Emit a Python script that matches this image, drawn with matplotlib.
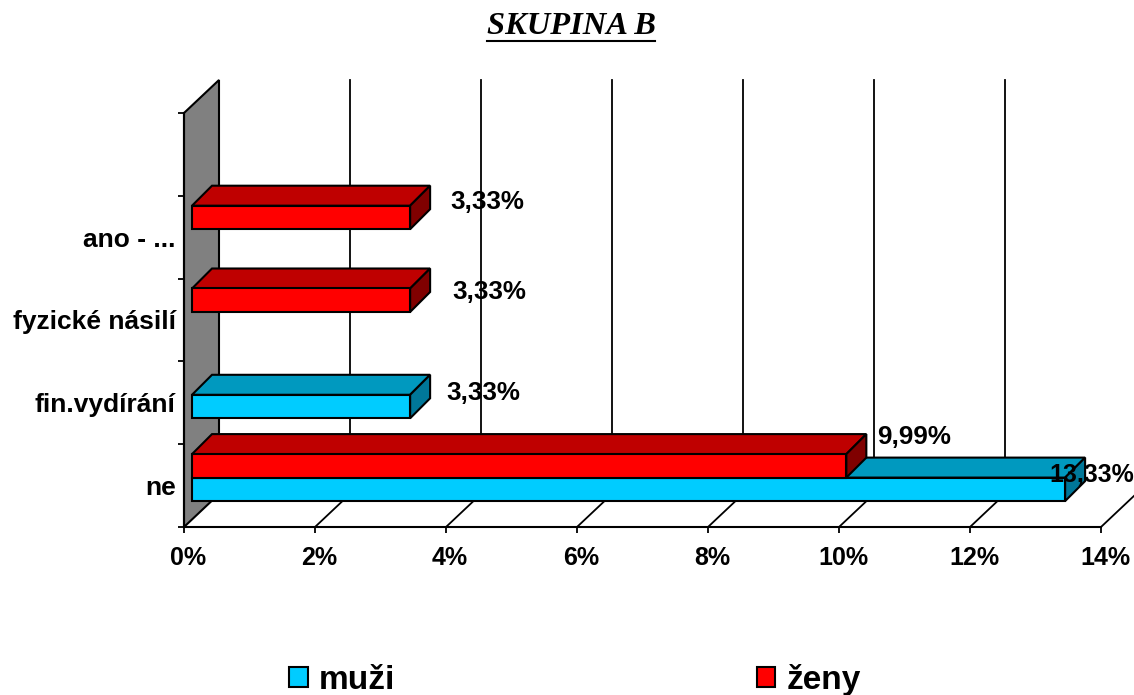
"""SKUPINA B: pseudo-3D horizontal bars, drawn on a flat axes with pixel depth offsets."""

import matplotlib

matplotlib.use("Agg")
import matplotlib.pyplot as plt
from matplotlib.lines import Line2D
from matplotlib.patches import Patch, Polygon
from matplotlib.transforms import ScaledTranslation

plt.rcParams["font.family"] = ["Liberation Sans", "DejaVu Sans"]

W, H = 1134, 695

categories = ["ne", "fin.vydírání", "fyzické násilí", "ano - ...", ""]
muzi = [13.33, 3.33, 0, 0, 0]
zeny = [9.99, 0, 3.33, 3.33, 0]
muzi_labels = ["13,33%", "3,33%", "", "", ""]
zeny_labels = ["9,99%", "", "3,33%", "3,33%", ""]
x_ticks = [0, 2, 4, 6, 8, 10, 12, 14]
x_tick_labels = ["0%", "2%", "4%", "6%", "8%", "10%", "12%", "14%"]
series_names = ["muži", "ženy"]

CYAN = ("#00CCFF", "#0099BF", "#007799")
RED = ("#FF0000", "#BF0000", "#800000")

LEFT, RIGHT, TOP, BOTTOM = 184, 1101, 113, 527
PX_X = 14 / (RIGHT - LEFT)
PX_Y = 5 / (BOTTOM - TOP)

WALL_DX, WALL_DY = 35 * PX_X, 33 * PX_Y
BAR_DX, BAR_DY = 8 * PX_X, 8 * PX_Y
DEPTH_DX, DEPTH_DY = 20 * PX_X, 20 * PX_Y
BAR_H = 23.5 * PX_Y

# label offsets from the bar's front top right corner, in pixels
muzi_offsets = [(-16, 3), (36, 2), (0, 0), (0, 0), (0, 0)]
zeny_offsets = [(31, 17), (0, 0), (42, -4), (40, 4), (0, 0)]
muzi_sizes = [17.9, 18.7, 0, 0, 0]


def draw_bar(ax, y0, value, colors):
    x0 = BAR_DX
    x1 = BAR_DX + value
    y_low = y0 + BAR_DY
    y_high = y_low + BAR_H
    dx, dy = DEPTH_DX, DEPTH_DY
    faces = [
        ([(x0, y_high), (x1, y_high), (x1 + dx, y_high + dy), (x0 + dx, y_high + dy)], colors[1]),
        ([(x1, y_low), (x1 + dx, y_low + dy), (x1 + dx, y_high + dy), (x1, y_high)], colors[2]),
        ([(x0, y_low), (x1, y_low), (x1, y_high), (x0, y_high)], colors[0]),
    ]
    for pts, color in faces:
        ax.add_patch(Polygon(pts, closed=True, facecolor=color, edgecolor="black",
                             linewidth=1.5, clip_on=False, zorder=3))
    return x1, y_high


def main():
    fig = plt.figure(figsize=(W / 100, H / 100), dpi=100)
    ax = fig.add_axes([LEFT / W, 1 - BOTTOM / H, (RIGHT - LEFT) / W, (BOTTOM - TOP) / H])
    ax.set_xlim(0, 14)
    ax.set_ylim(0, 5)
    ax.patch.set_visible(False)
    for side in ["top", "right"]:
        ax.spines[side].set_visible(False)
    for side in ["left", "bottom"]:
        ax.spines[side].set_linewidth(1.5)

    # side wall
    ax.add_patch(Polygon([(0, 0), (WALL_DX, WALL_DY), (WALL_DX, 5 + WALL_DY), (0, 5)],
                         closed=True, facecolor="#808080", edgecolor="black",
                         linewidth=1.5, clip_on=False, zorder=1))

    # back grid and floor lines
    for t in x_ticks[1:]:
        ax.plot([t + WALL_DX, t + WALL_DX], [WALL_DY, 5 + WALL_DY], color="black",
                linewidth=1.3, clip_on=False, zorder=1)
        ax.plot([t, t + WALL_DX], [0, WALL_DY], color="black", linewidth=1.3,
                clip_on=False, zorder=1)

    for i in range(len(categories)):
        if muzi[i]:
            x1, y1 = draw_bar(ax, i + 0.5 - BAR_H, muzi[i], CYAN)
            ax.annotate(muzi_labels[i], (x1, y1), xytext=(muzi_offsets[i][0] * 0.72, muzi_offsets[i][1] * 0.72),
                        textcoords="offset points", fontsize=muzi_sizes[i], fontweight="bold", va="center",
                        annotation_clip=False, zorder=5)
        if zeny[i]:
            x1, y1 = draw_bar(ax, i + 0.5, zeny[i], RED)
            ax.annotate(zeny_labels[i], (x1, y1), xytext=(zeny_offsets[i][0] * 0.72, zeny_offsets[i][1] * 0.72),
                        textcoords="offset points", fontsize=18.7, fontweight="bold", va="center",
                        annotation_clip=False, zorder=5)

    ax.set_xticks(x_ticks)
    ax.set_xticklabels(x_tick_labels, fontsize=18, fontweight="bold")
    ax.tick_params(axis="x", length=4, width=1.3, pad=10)
    shift = ScaledTranslation(4 / 100, 0, fig.dpi_scale_trans)
    for label in ax.get_xticklabels():
        label.set_transform(label.get_transform() + shift)

    ax.set_yticks(range(6))
    ax.set_yticklabels([])
    ax.tick_params(axis="y", which="major", length=4, width=1.3)
    ax.set_yticks([i + 0.5 for i in range(5)], minor=True)
    ax.set_yticklabels(categories, minor=True, fontsize=19, fontweight="bold")
    ax.tick_params(axis="y", which="minor", length=0, pad=6)

    title = fig.text(571 / W, 1 - 27 / H, "SKUPINA B", family="Liberation Serif", fontsize=23.4,
                     fontweight="bold", fontstyle="italic", ha="center", va="center")
    fig.canvas.draw()
    box = title.get_window_extent()
    fig.add_artist(Line2D([box.x0 / W, box.x1 / W], [1 - 41 / H, 1 - 41 / H], color="black", linewidth=1.5))

    handles = [Patch(facecolor=CYAN[0], edgecolor="black", linewidth=1.5),
               Patch(facecolor=RED[0], edgecolor="black", linewidth=1.5)]
    fig.legend(handles, series_names, ncols=2, loc="center", bbox_to_anchor=(575 / W, 1 - 680 / H),
               frameon=False, prop={"size": 24, "weight": "bold"}, handlelength=0.55, handleheight=0.55,
               handletextpad=0.33, columnspacing=10.85, borderpad=0)

    fig.savefig("out.png", dpi=100)


if __name__ == "__main__":
    main()
